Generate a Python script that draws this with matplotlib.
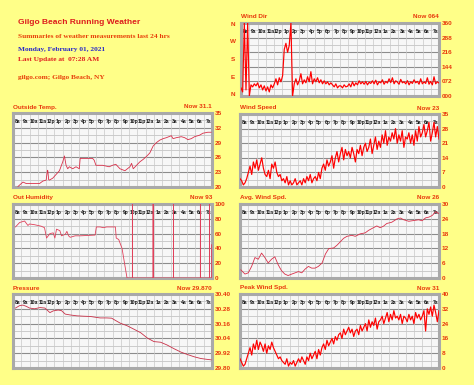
import matplotlib
matplotlib.use('Agg')
import matplotlib.pyplot as plt
import numpy as np

W, H = 474, 385
BG = '#ffff88'
ORANGE = '#e8380c'

hour_labels = ['8a', '9a', '10a', '11a', '12p', '1p', '2p', '3p', '4p', '5p', '6p', '7p',
               '8p', '9p', '10p', '11p', '12a', '1a', '2a', '3a', '4a', '5a', '6a', '7a']

# noisy series sampled every ~12 minutes over the last 24 h
t_noisy = np.linspace(0, 24, 120)

wind_dir = [40, 20, 360, 30, 360,
            0, 55, 45, 60, 50,
            65, 40, 55, 30, 50,
            25, 45, 20, 55, 40,
            60, 85, 55, 90, 70,
            100, 230, 260, 215, 250,
            360, 0, 60, 85, 55,
            75, 110, 60, 80, 65,
            95, 70, 120, 60, 85,
            70, 90, 65, 80, 60,
            75, 60, 70, 55, 65,
            55, 45, 60, 40, 50,
            50, 40, 55, 45, 48,
            60, 45, 70, 50, 65,
            55, 75, 60, 70, 58,
            72, 55, 68, 62, 75,
            60, 78, 55, 70, 65,
            80, 58, 72, 64, 85,
            66, 90, 60, 75, 68,
            58, 82, 65, 70, 60,
            76, 55, 70, 62, 80,
            65, 72, 58, 85, 60,
            70, 62, 90, 58, 72,
            55, 95, 60, 70, 64]

wind_speed = [4, 3, 1, 2, 4,
              7, 10, 6, 12, 9,
              13, 8, 11, 14, 9,
              6, 5, 8, 4, 11,
              9, 12, 7, 5, 6,
              3, 4, 2, 5, 1,
              3, 1, 2, 4, 1,
              2, 3, 1, 4, 2,
              5, 3, 6, 2, 4,
              5, 3, 7, 4, 9,
              11, 8, 13, 10, 12,
              15, 9, 14, 17, 12,
              16, 19, 13, 18, 15,
              17, 14, 19, 16, 12,
              18, 16, 20, 15, 19,
              21, 17, 19, 23, 16,
              20, 24, 18, 22, 19,
              25, 21, 27, 20, 24,
              22, 26, 23, 28, 21,
              25, 22, 27, 19, 24,
              23, 26, 21, 25, 20,
              27, 22, 29, 24, 26,
              30, 24, 27, 31, 22,
              26, 31, 24, 29, 23]

peak_wind = [5, 3, 1, 2, 5,
             8, 11, 7, 13, 10,
             15, 10, 14, 12, 9,
             13, 8, 12, 10, 14,
             11, 9, 7, 5, 6,
             4, 3, 2, 5, 1,
             3, 2, 4, 1, 3,
             5, 3, 6, 4, 2,
             6, 4, 8, 5, 7,
             9, 5, 10, 7, 11,
             13, 10, 15, 12, 14,
             16, 13, 17, 15, 18,
             19, 16, 21, 18, 20,
             22, 19, 21, 17, 20,
             21, 18, 23, 20, 22,
             24, 20, 26, 22, 25,
             23, 27, 21, 25, 26,
             28, 24, 27, 30, 25,
             29, 26, 31, 27, 28,
             26, 29, 24, 28, 27,
             25, 29, 26, 28, 24,
             30, 27, 29, 26, 28,
             31, 20, 32, 29, 33,
             28, 34, 30, 25, 31]

t_temp = [0.6, 1.2, 1.6, 3.2, 3.6, 4.0, 4.15, 4.2, 4.3, 4.4, 4.8, 5.6, 6.0, 6.2, 6.4, 6.6,
          6.8, 7.2, 7.6, 8.0, 8.1, 8.2, 8.8, 9.6, 9.8, 10.0, 10.8, 11.6, 12.0, 12.4, 12.9,
          13.5, 14.1, 14.3, 14.5, 14.9, 15.3, 15.7, 16.1, 16.5, 16.9, 17.3, 17.7, 18.1,
          18.5, 19.1, 19.3, 19.7, 20.3, 20.7, 21.1, 21.5, 21.9, 22.5, 22.9, 23.5, 23.9]
temp = [20.1, 21.0, 20.7, 20.7, 21.2, 21.4, 23.4, 23.3, 21.5, 21.4, 21.8, 23.3, 25.1, 26.3,
        24.4, 23.7, 24.1, 23.7, 24.1, 23.7, 25.8, 25.8, 25.8, 25.8, 25.4, 24.4, 24.4, 24.1,
        24.4, 24.6, 23.7, 23.3, 24.1, 24.8, 23.7, 24.4, 25.1, 25.6, 26.2, 26.9, 28.3, 29.0,
        29.5, 29.8, 30.0, 30.4, 29.8, 30.0, 30.2, 30.0, 29.6, 29.8, 30.2, 30.5, 30.9, 31.1, 31.1]

t_hum = [0.3, 0.8, 1.4, 1.8, 2.0, 2.6, 3.0, 3.4, 3.8, 4.05, 4.45, 4.85, 5.05, 5.25, 5.65,
         5.85, 6.3, 6.5, 6.7, 6.9, 7.5, 8.1, 9.9, 10.05, 10.5, 10.9, 11.3, 12.35, 12.45,
         12.75, 13.15, 13.45, 13.75, 14.4, 14.4, 14.4, 16.9, 16.9, 16.9, 19.35, 19.35,
         19.35, 22.6, 22.6, 22.6, 23.7, 23.7, 23.7, 23.95, 23.95]
humidity = [69, 75, 77, 71, 73, 72, 71, 70, 68, 54, 60, 61, 54, 66, 64, 57, 59, 63, 57, 55,
            57, 57, 58, 69, 69, 68, 69, 69, 54, 52, 40, 20, 0, 0, 100, 0, 0, 100, 0, 0, 100,
            0, 0, 100, 0, 0, 100, 0, 0, 45]

t_avg = [0.1, 0.6, 1.0, 1.4, 1.8, 2.2, 2.6, 3.0, 3.4, 3.8, 4.2, 4.6, 5.0, 5.4, 5.8, 6.25,
         6.65, 7.05, 7.45, 7.85, 8.25, 8.65, 9.05, 9.45, 9.9, 10.3, 10.7, 11.3, 11.7, 12.1,
         12.5, 12.9, 13.5, 13.9, 14.5, 15.1, 15.5, 16.1, 16.5, 16.9, 17.3, 17.7, 18.3,
         18.95, 19.35, 19.75, 20.35, 20.95, 21.55, 21.95, 22.4, 22.8, 23.2, 23.6, 24.0]
avg_wind = [3.3, 1.6, 2.1, 4.7, 8.3, 7.6, 10.1, 8.3, 6.1, 7.6, 8.6, 5.4, 3.0, 1.6, 1.0, 1.6,
            2.1, 2.6, 2.1, 3.6, 4.7, 4.0, 4.0, 4.7, 6.1, 9.7, 11.9, 12.2, 13.3, 14.7, 16.1,
            16.9, 17.3, 16.9, 17.9, 18.3, 19.3, 20.4, 21.1, 20.4, 21.0, 22.1, 22.6, 24.0,
            24.3, 23.6, 23.0, 23.3, 23.6, 23.2, 24.4, 24.7, 25.4, 26.9, 26.1]

t_pres = [0.3, 0.8, 1.2, 1.6, 2.0, 2.6, 3.25, 3.85, 4.45, 4.85, 5.45, 5.85, 6.3, 6.9, 7.7,
          8.5, 9.3, 9.7, 10.5, 11.3, 11.9, 12.35, 12.95, 13.75, 14.6, 15.4, 16.2, 17.0,
          17.8, 18.6, 19.4, 20.25, 21.05, 21.85, 22.65, 23.3, 23.9]
pressure = [30.286, 30.306, 30.31, 30.30, 30.286, 30.28, 30.29, 30.286, 30.249, 30.263,
            30.27, 30.265, 30.237, 30.23, 30.223, 30.22, 30.218, 30.214, 30.206, 30.206,
            30.204, 30.186, 30.163, 30.143, 30.114, 30.086, 30.043, 30.014, 30.009, 29.986,
            29.957, 29.929, 29.909, 29.891, 29.877, 29.871, 29.866]

fig = plt.figure(figsize=(W / 100, H / 100), dpi=100, facecolor=BG)


def panel(box, title, now, ticks, labels):
    x0, y0, x1, y1 = box
    ax = fig.add_axes([x0 / W, 1 - y1 / H, (x1 - x0) / W, (y1 - y0) / H])
    ax.set_facecolor('#f7f7f7')
    ax.set_xlim(0, 24)
    ax.set_ylim(ticks[0], ticks[-1])
    # grid: light lines at half steps, darker at major ticks
    step = ticks[1] - ticks[0]
    for v in ticks[:-1]:
        ax.axhline(v + step / 2, color='#c4c4c4', lw=0.6, zorder=1)
    for v in ticks[1:-1]:
        ax.axhline(v, color='#8c8c8c', lw=0.8, zorder=1)
    for h in range(1, 24):
        ax.axvline(h, color='#c8c8c8', lw=0.5, zorder=1)
    for i, lab in enumerate(hour_labels):
        ax.text(i + 0.55, 0.89, lab, transform=ax.get_xaxis_transform(), ha='center',
                va='center', fontsize=3.6, weight='bold', color='#1a1a1a',
                family='Liberation Sans', zorder=2)
    ax.set_xticks([])
    ax.yaxis.tick_right()
    ax.set_yticks(ticks)
    ax.set_yticklabels(labels)
    ax.tick_params(axis='y', length=0, pad=2, labelsize=4.6, labelcolor=ORANGE)
    for t in ax.get_yticklabels():
        t.set_fontweight('bold')
        t.set_family('Liberation Sans')
    for s in ax.spines.values():
        s.set_color('#a9a9a9')
        s.set_linewidth(2.2)
    fig.text(x0 / W, 1 - (y0 - 6) / H, title, color=ORANGE, fontsize=4.6, weight='bold',
             family='Liberation Sans', va='center', ha='left')
    fig.text(x1 / W, 1 - (y0 - 6) / H, now, color=ORANGE, fontsize=4.6, weight='bold',
             family='Liberation Sans', va='center', ha='right')
    return ax


ax = panel((241, 23, 439, 96), 'Wind Dir', 'Now 064', [0, 72, 144, 216, 288, 360],
           ['000', '072', '144', '216', '288', '360'])
ax.plot(t_noisy, wind_dir, color='#ff0000', lw=0.85, zorder=3)
for lab, v in zip(['N', 'W', 'S', 'E', 'N'], [352, 270, 180, 90, 8]):
    ax.text(-0.95, v, lab, color=ORANGE, fontsize=4.6, weight='bold', ha='center',
            va='center', family='Liberation Sans', clip_on=False)

ax = panel((13, 113, 212, 187), 'Outside Temp.', 'Now 31.1', [20, 23, 26, 29, 32, 35],
           ['20', '23', '26', '29', '32', '35'])
ax.plot(t_temp, temp, color='#d8304a', lw=0.6, zorder=3)

ax = panel((240, 114, 439, 187), 'Wind Speed', 'Now 23', [0, 7, 14, 21, 28, 35],
           ['0', '7', '14', '21', '28', '35'])
ax.plot(t_noisy, wind_speed, color='#ff0000', lw=0.85, zorder=3)

ax = panel((13, 204, 212, 278), 'Out Humidity', 'Now 93', [0, 20, 40, 60, 80, 100],
           ['0', '20', '40', '60', '80', '100'])
ax.plot(t_hum, humidity, color='#e0405a', lw=0.6, zorder=3)

ax = panel((240, 204, 439, 278), 'Avg. Wind Spd.', 'Now 26', [0, 6, 12, 18, 24, 30],
           ['0', '6', '12', '18', '24', '30'])
ax.plot(t_avg, avg_wind, color='#d8304a', lw=0.6, zorder=3)

ax = panel((13, 294, 212, 368), 'Pressure', 'Now 29.870',
           [29.80, 29.92, 30.04, 30.16, 30.28, 30.40],
           ['29.80', '29.92', '30.04', '30.16', '30.28', '30.40'])
ax.plot(t_pres, pressure, color='#c83048', lw=0.6, zorder=3)

ax = panel((240, 294, 439, 368), 'Peak Wind Spd.', 'Now 31', [0, 8, 16, 24, 32, 40],
           ['0', '8', '16', '24', '32', '40'])
ax.plot(t_noisy, peak_wind, color='#ff0000', lw=0.85, zorder=3)

# header text
fig.text(18 / W, 1 - 23 / H, 'Gilgo Beach Running Weather', color='#dd1c1c', fontsize=6.0,
         weight='bold', family='Liberation Sans', va='center')
serif = dict(fontsize=5.3, weight='bold', family='Liberation Serif', va='center')
fig.text(18 / W, 1 - 36 / H, 'Summaries of weather measurements last 24 hrs', color='#e8400a', **serif)
fig.text(18 / W, 1 - 49 / H, 'Monday, February 01, 2021', color='#2a2ac8', **serif)
fig.text(18 / W, 1 - 60 / H, 'Last Update at  07:28 AM', color='#e02020', **serif)
fig.text(18 / W, 1 - 77 / H, 'gilgo.com; Gilgo Beach, NY', color='#e8400a', **serif)

fig.savefig('out.png', dpi=100, facecolor=BG)
